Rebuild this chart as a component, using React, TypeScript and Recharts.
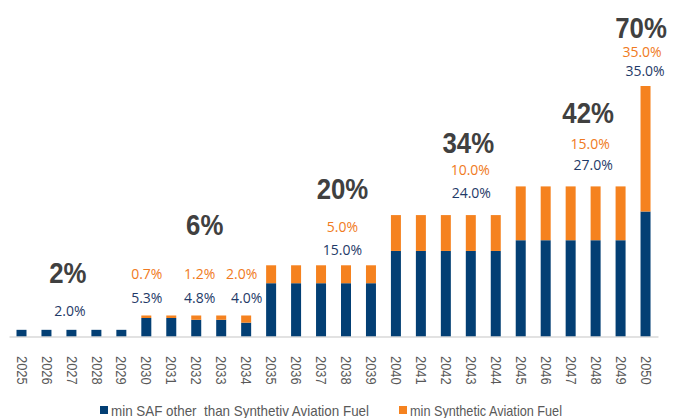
import React from 'react';
import { BarChart, Bar, XAxis, YAxis, Legend, ReferenceDot } from 'recharts';

const years = [
  '2025', '2026', '2027', '2028', '2029', '2030', '2031', '2032', '2033', '2034',
  '2035', '2036', '2037', '2038', '2039', '2040', '2041', '2042', '2043', '2044',
  '2045', '2046', '2047', '2048', '2049', '2050',
];
const safOther = [
  2, 2, 2, 2, 2, 5.3, 5.3, 4.8, 4.8, 4.0,
  15, 15, 15, 15, 15, 24, 24, 24, 24, 24,
  27, 27, 27, 27, 27, 35,
];
const synthetic = [
  0, 0, 0, 0, 0, 0.7, 0.7, 1.2, 1.2, 2.0,
  5, 5, 5, 5, 5, 10, 10, 10, 10, 10,
  15, 15, 15, 15, 15, 35,
];

// annotation texts: year anchor, height in % units, pixel nudge
const annoYears = ['2027', '2027', '2030', '2030', '2032', '2032', '2032', '2034', '2034', '2038', '2038', '2038', '2043', '2043', '2043', '2048', '2048', '2048', '2050', '2050', '2050'];
const annoLevels = [17.8, 7.5, 17.6, 10.9, 31.2, 17.6, 10.9, 17.6, 10.9, 41.3, 30.7, 24.3, 54.1, 46.6, 40.4, 62.5, 54.1, 48.0, 86.3, 79.5, 74.2];
const annoTexts = ['2%', '2.0%', '0.7%', '5.3%', '6%', '1.2%', '4.8%', '2.0%', '4.0%', '20%', '5.0%', '15.0%', '34%', '10.0%', '24.0%', '42%', '15.0%', '27.0%', '70%', '35.0%', '35.0%'];
const annoKinds = ['big', 'saf', 'syn', 'saf', 'big', 'syn', 'saf', 'syn', 'saf', 'big', 'syn', 'saf', 'big', 'syn', 'saf', 'big', 'syn', 'saf', 'big', 'syn', 'saf'];
const annoShift = [-4, -2, 0, 0, 8, 3, 3, -5, 0, -4, -4, -4, -3, -1, 0, -8, -6, -3, -5, -4, -1];

const legendNames = ['min SAF other  than Synthetiv Aviation Fuel', 'min Synthetic Aviation Fuel'];

const BLUE = '#033F74';
const ORANGE = '#F5821F';
const BLUE_TEXT = '#1F3A68';
const ORANGE_TEXT = '#F07A22';
const NARROW = "'Liberation Sans', Arial, sans-serif";

const data = years.map((y, i) => ({ year: y, saf: safOther[i], syn: synthetic[i] }));

const YearTick = (props: any) => {
  const { x, y, payload } = props;
  return (
    <g transform={`translate(${x}, ${y + 11}) rotate(90) scale(0.86, 1)`}>
      <text x={0} y={0} textAnchor="start" dominantBaseline="central" fontSize={15} fontFamily={NARROW} fill="#595959">
        {payload.value}
      </text>
    </g>
  );
};

const LegendBox = () => (
  <svg width={677} height={30} style={{ display: 'block' }}>
    <rect x={100} y={18} width={8} height={8} fill={BLUE} />
    <text x={111} y={22} dominantBaseline="central" fontSize={15} fontFamily={NARROW} fill="#595959"
      textLength={258} lengthAdjust="spacingAndGlyphs" style={{ whiteSpace: 'pre' }}>
      {legendNames[0]}
    </text>
    <rect x={399} y={18} width={8} height={8} fill={ORANGE} />
    <text x={410} y={22} dominantBaseline="central" fontSize={15} fontFamily={NARROW} fill="#595959"
      textLength={152} lengthAdjust="spacingAndGlyphs">
      {legendNames[1]}
    </text>
  </svg>
);

export default function App() {
  return (
    <div style={{ position: 'absolute', left: 0, top: 0, width: 677, height: 418, background: '#fff' }}>
      <BarChart width={677} height={418} data={data} margin={{ top: 86, right: 18.5, left: 9.5, bottom: 0 }}>
        <XAxis
          dataKey="year"
          height={51}
          interval={0}
          tickLine={false}
          axisLine={{ stroke: '#D9D9D9', strokeWidth: 1.5 }}
          tick={<YearTick />}
        />
        <YAxis hide domain={[0, 70]} />
        <Legend verticalAlign="bottom" content={<LegendBox />} wrapperStyle={{ height: 30, left: 0, width: 677 }} />
        <Bar dataKey="saf" stackId="a" fill={BLUE} barSize={10} isAnimationActive={false} name={legendNames[0]} />
        <Bar dataKey="syn" stackId="a" fill={ORANGE} barSize={10} isAnimationActive={false} name={legendNames[1]} />
        {annoTexts.map((t, i) => {
          const kind = annoKinds[i];
          const big = kind === 'big';
          return (
            <ReferenceDot
              key={i}
              x={annoYears[i]}
              y={annoLevels[i]}
              r={1}
              ifOverflow="visible"
              shape={(p: any) => (
                <g transform={`translate(${p.cx + annoShift[i]}, ${p.cy}) scale(${big ? 0.86 : 1}, 1)`}>
                  <text
                    x={0}
                    y={0}
                    textAnchor="middle"
                    dominantBaseline="central"
                    fontSize={big ? 30 : 14}
                    fontWeight={big ? 700 : 400}
                    fontFamily={big ? NARROW : "'Open Sans', sans-serif"}
                    fill={big ? '#404040' : kind === 'syn' ? ORANGE_TEXT : BLUE_TEXT}
                  >
                    {t}
                  </text>
                </g>
              )}
            />
          );
        })}
      </BarChart>
    </div>
  );
}
